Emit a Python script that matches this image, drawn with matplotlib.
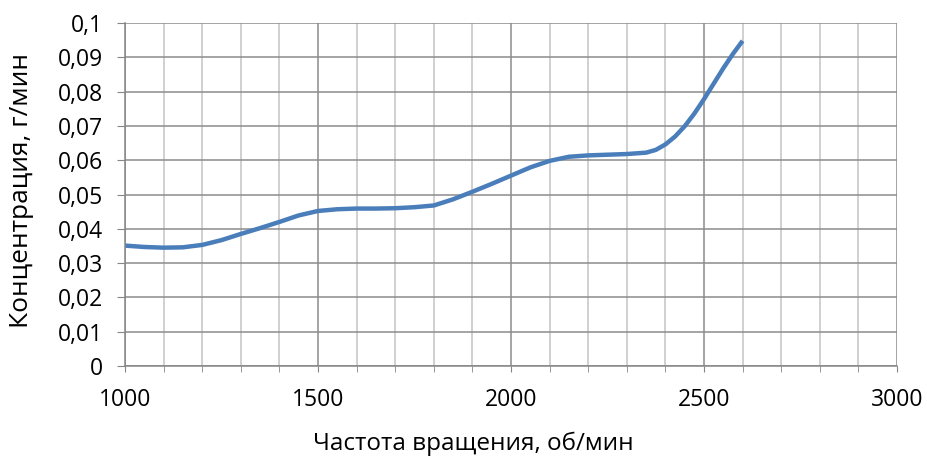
import numpy as np
import matplotlib.pyplot as plt
from matplotlib.ticker import MultipleLocator, FuncFormatter

plt.rcParams['font.family'] = ['Open Sans', 'DejaVu Sans']

# values
rpm = [1000, 1050, 1100, 1150, 1200, 1250, 1300, 1350, 1400, 1450, 1500,
       1550, 1600, 1650, 1700, 1750, 1800, 1850, 1900, 1950, 2000, 2050,
       2100, 2150, 2200, 2250, 2300, 2350, 2375, 2400, 2425, 2450, 2475,
       2500, 2525, 2550, 2575, 2600]
conc = [0.0351, 0.0347, 0.0345, 0.0346, 0.0353, 0.0367, 0.0385, 0.0402,
        0.0420, 0.0439, 0.0452, 0.0457, 0.0459, 0.0459, 0.0460, 0.0463,
        0.0468, 0.0486, 0.0508, 0.0531, 0.0555, 0.0579, 0.0598, 0.0610,
        0.0614, 0.0616, 0.0618, 0.0622, 0.0630, 0.0646, 0.0669, 0.0699,
        0.0736, 0.0778, 0.0823, 0.0868, 0.0910, 0.0948]

fig = plt.figure(figsize=(9.28, 4.59), dpi=100)
ax = fig.add_axes([125/928, 1 - 366/459, (897-125)/928, (366-23)/459])

ax.set_xlim(1000, 3000)
ax.set_ylim(0, 0.1)
ax.xaxis.set_major_locator(MultipleLocator(500))
ax.xaxis.set_minor_locator(MultipleLocator(100))
ax.yaxis.set_major_locator(MultipleLocator(0.01))

ax.grid(True, which='major', axis='both', color='#8c8c8c', lw=1.1)
ax.grid(True, which='minor', axis='x', color='#c4c4c4', lw=1.1)
ax.set_axisbelow(True)

ax.plot(rpm, conc, color='#4a7ebb', lw=3.2, solid_capstyle='butt', solid_joinstyle='round')

for s in ['top', 'right']:
    ax.spines[s].set_visible(False)
for s in ['left', 'bottom']:
    ax.spines[s].set_color('#868686')
    ax.spines[s].set_linewidth(1.1)

ax.tick_params(axis='both', which='both', direction='out', color='#868686',
               labelsize=16.5, labelcolor='#000000')
ax.tick_params(axis='x', which='major', length=4.5, pad=11)
ax.tick_params(axis='x', which='minor', length=4.5)
ax.tick_params(axis='y', length=6, pad=10)

ax.yaxis.set_major_formatter(FuncFormatter(lambda v, p: ('%g' % round(v, 2)).replace('.', ',')))

fig.text(473/928, 1 - 450/459, 'Частота вращения, об/мин', ha='center', va='baseline', fontsize=17.5)
fig.text(22/928, 1 - 190/459, 'Концентрация, г/мин', ha='center', va='center',
         rotation=90, fontsize=19)

fig.savefig('out.png', dpi=100)
